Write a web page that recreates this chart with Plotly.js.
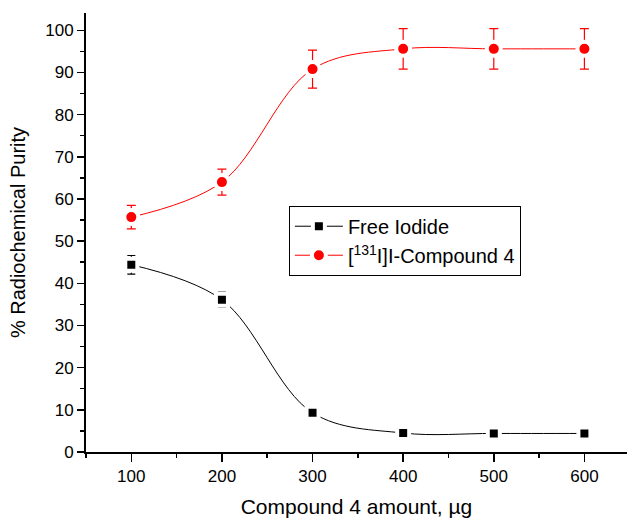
<!DOCTYPE html>
<html>
<head>
<meta charset="utf-8">
<script src="https://cdn.plot.ly/plotly-3.0.1.min.js"></script>
<style>html,body{margin:0;padding:0;background:#fff}#chart{width:627px;height:518px}</style>
</head>
<body>
<div id="chart"></div>
<script>
const amounts = [100, 200, 300, 400, 500, 600];
const freeIodide = [44.4, 36.1, 9.3, 4.5, 4.4, 4.4];
const freeIodideErr = [2.2, 1.8, 0.5, 0.4, 0.4, 0.4];
const compound = [55.7, 64.0, 90.8, 95.6, 95.6, 95.6];
const compoundErr = [2.8, 3.1, 4.5, 4.8, 4.8, 4.8];
const xTicks = [100, 200, 300, 400, 500, 600];
const yTicks = [0, 10, 20, 30, 40, 50, 60, 70, 80, 90, 100];
const names = ['Free Iodide', '[<sup>131</sup>I]I-Compound 4'];

const traces = [
  {
    x: amounts, y: freeIodide, name: names[0], type: 'scatter', mode: 'lines+markers',
    line: {color: '#000000', width: 1, shape: 'spline', smoothing: 1},
    marker: {symbol: 'square', size: 12, color: '#000000', line: {color: '#ffffff', width: 4}},
    error_y: {type: 'data', array: freeIodideErr, visible: true, color: '#000000', thickness: 1.2, width: 4}
  },
  {
    x: amounts, y: compound, name: names[1], type: 'scatter', mode: 'lines+markers',
    line: {color: '#ff0000', width: 1, shape: 'spline', smoothing: 1},
    marker: {symbol: 'circle', size: 14, color: '#ff0000', line: {color: '#ffffff', width: 4}},
    error_y: {type: 'data', array: compoundErr, visible: true, color: '#ff0000', thickness: 1.2, width: 4.5}
  }
];

const layout = {
  width: 627, height: 518,
  margin: {l: 86, r: 0, t: 13, b: 66},
  paper_bgcolor: '#ffffff', plot_bgcolor: '#ffffff',
  font: {family: 'Liberation Sans, Arial, sans-serif', color: '#000000', size: 17},
  showlegend: true,
  legend: {
    x: 0.375, y: 0.561, xanchor: 'left', yanchor: 'top',
    bordercolor: '#000000', borderwidth: 1, bgcolor: '#ffffff',
    font: {size: 20}, itemwidth: 48, traceorder: 'normal'
  },
  xaxis: {
    range: [50, 647], tickvals: xTicks, ticktext: xTicks.map(String),
    showgrid: false, zeroline: false, showline: true, linecolor: '#000000', linewidth: 2,
    ticks: 'outside', ticklen: 8, tickwidth: 1.5, tickcolor: '#000000',
    minor: {dtick: 50, tick0: 50, ticklen: 4, tickwidth: 1.5, tickcolor: '#000000', ticks: 'outside', showgrid: false},
    tickfont: {size: 17},
    title: {text: 'Compound 4 amount, µg', font: {size: 21}, standoff: 14}
  },
  yaxis: {
    range: [0, 104.1], tickvals: yTicks, ticktext: yTicks.map(String),
    showgrid: false, zeroline: false, showline: true, linecolor: '#000000', linewidth: 2,
    ticks: 'outside', ticklen: 7, tickwidth: 1.5, tickcolor: '#000000',
    minor: {dtick: 5, tick0: 0, ticklen: 4, tickwidth: 1.5, tickcolor: '#000000', ticks: 'outside', showgrid: false},
    tickfont: {size: 17},
    title: {text: '% Radiochemical Purity', font: {size: 20}, standoff: 14}
  }
};

Plotly.newPlot('chart', traces, layout, {displayModeBar: false, staticPlot: true});
</script>
</body>
</html>
